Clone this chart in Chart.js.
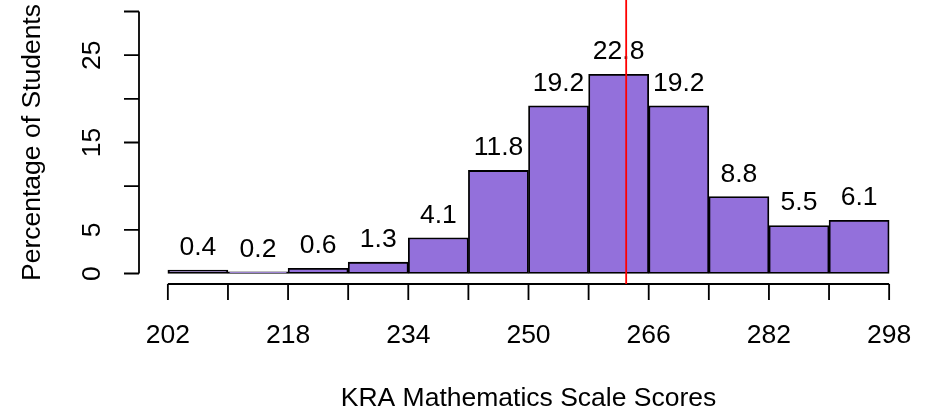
<!DOCTYPE html>
<html>
<head>
<meta charset="utf-8">
<script src="https://cdn.jsdelivr.net/npm/chart.js@4"></script>
<style>
  body { margin: 0; background: #fff; }
  #wrap { width: 934px; height: 414px; position: relative; }
</style>
</head>
<body>
<div id="wrap"><canvas id="histChart"></canvas></div>
<script>
    // histogram bins (start of each 8-point bin) and percentages
    var binStarts = [202, 210, 218, 226, 234, 242, 250, 258, 266, 274, 282, 290];
    var binWidth = 8;
    var percents = [0.4, 0.2, 0.6, 1.3, 4.1, 11.8, 19.2, 22.8, 19.2, 8.8, 5.5, 6.1];
    var meanScore = 263;

    var xTicks = [202, 210, 218, 226, 234, 242, 250, 258, 266, 274, 282, 290, 298];
    var xTickLabels = ['202', '218', '234', '250', '266', '282', '298'];
    var yTicks = [0, 5, 10, 15, 20, 25, 30];
    var yTickLabels = ['0', '5', '15', '25'];

    var xTitle = 'KRA Mathematics Scale Scores';
    var yTitle = 'Percentage of Students';

    var FONT = '26.5px "Liberation Sans", Arial, sans-serif';

    // R pads the data range by 4% on each side
    var xLo = xTicks[0], xHi = xTicks[xTicks.length - 1];
    var yLo = yTicks[0], yHi = yTicks[yTicks.length - 1];
    var xPad = (xHi - xLo) * 0.04, yPad = (yHi - yLo) * 0.04;

    var points = binStarts.map(function (s, i) {
        return { x: s + binWidth / 2, y: percents[i] };
    });

    var baseAxes = {
        id: 'baseAxes',
        afterDraw: function (chart) {
            var ctx = chart.ctx;
            var xs = chart.scales.x, ys = chart.scales.y;
            var area = chart.chartArea;
            ctx.save();
            ctx.strokeStyle = '#000';
            ctx.fillStyle = '#000';
            ctx.lineWidth = 1.8;
            ctx.font = FONT;

            // x axis
            var axY = area.bottom;
            ctx.beginPath();
            ctx.moveTo(xs.getPixelForValue(xLo), axY);
            ctx.lineTo(xs.getPixelForValue(xHi), axY);
            xTicks.forEach(function (t) {
                var px = xs.getPixelForValue(t);
                ctx.moveTo(px, axY);
                ctx.lineTo(px, axY + 16);
            });
            ctx.stroke();
            ctx.textAlign = 'center';
            ctx.textBaseline = 'alphabetic';
            xTickLabels.forEach(function (l) {
                ctx.fillText(l, xs.getPixelForValue(Number(l)), 343);
            });
            ctx.fillText(xTitle, (area.left + area.right) / 2, 406);

            // y axis
            var axX = area.left;
            ctx.beginPath();
            ctx.moveTo(axX, ys.getPixelForValue(yLo));
            ctx.lineTo(axX, ys.getPixelForValue(yHi));
            yTicks.forEach(function (t) {
                var py = ys.getPixelForValue(t);
                ctx.moveTo(axX, py);
                ctx.lineTo(axX - 15, py);
            });
            ctx.stroke();
            yTickLabels.forEach(function (l) {
                ctx.save();
                ctx.translate(100, ys.getPixelForValue(Number(l)));
                ctx.rotate(-Math.PI / 2);
                ctx.fillText(l, 0, 0);
                ctx.restore();
            });
            ctx.save();
            ctx.translate(40, (area.top + area.bottom) / 2);
            ctx.rotate(-Math.PI / 2);
            ctx.fillText(yTitle, 0, 0);
            ctx.restore();

            // value labels over bars
            points.forEach(function (p) {
                ctx.fillText(p.y.toFixed(1), xs.getPixelForValue(p.x), ys.getPixelForValue(p.y) - 15);
            });

            // mean score line
            var mx = xs.getPixelForValue(meanScore);
            ctx.strokeStyle = '#ff0000';
            ctx.lineWidth = 1.8;
            ctx.beginPath();
            ctx.moveTo(mx, 0);
            ctx.lineTo(mx, area.bottom);
            ctx.stroke();
            ctx.restore();
        }
    };

    var ctx = document.getElementById('histChart').getContext('2d');
    var histChart = new Chart(ctx, {
        type: 'bar',
        data: {
            datasets: [{
                label: 'Percentage of Students',
                data: points,
                backgroundColor: '#9370DB',
                borderColor: '#000',
                borderWidth: 1.8,
                borderSkipped: false,
                barPercentage: 1,
                categoryPercentage: 1
            }]
        },
        options: {
            responsive: true,
            maintainAspectRatio: false,
            animation: false,
            layout: { padding: { left: 139, right: 16, top: 1, bottom: 130 } },
            plugins: { legend: { display: false }, tooltip: { enabled: false } },
            scales: {
                x: { type: 'linear', display: false, offset: false, min: xLo - xPad, max: xHi + xPad },
                y: { display: false, min: yLo - yPad, max: yHi + yPad }
            }
        },
        plugins: [baseAxes]
    });
</script>
</body>
</html>
